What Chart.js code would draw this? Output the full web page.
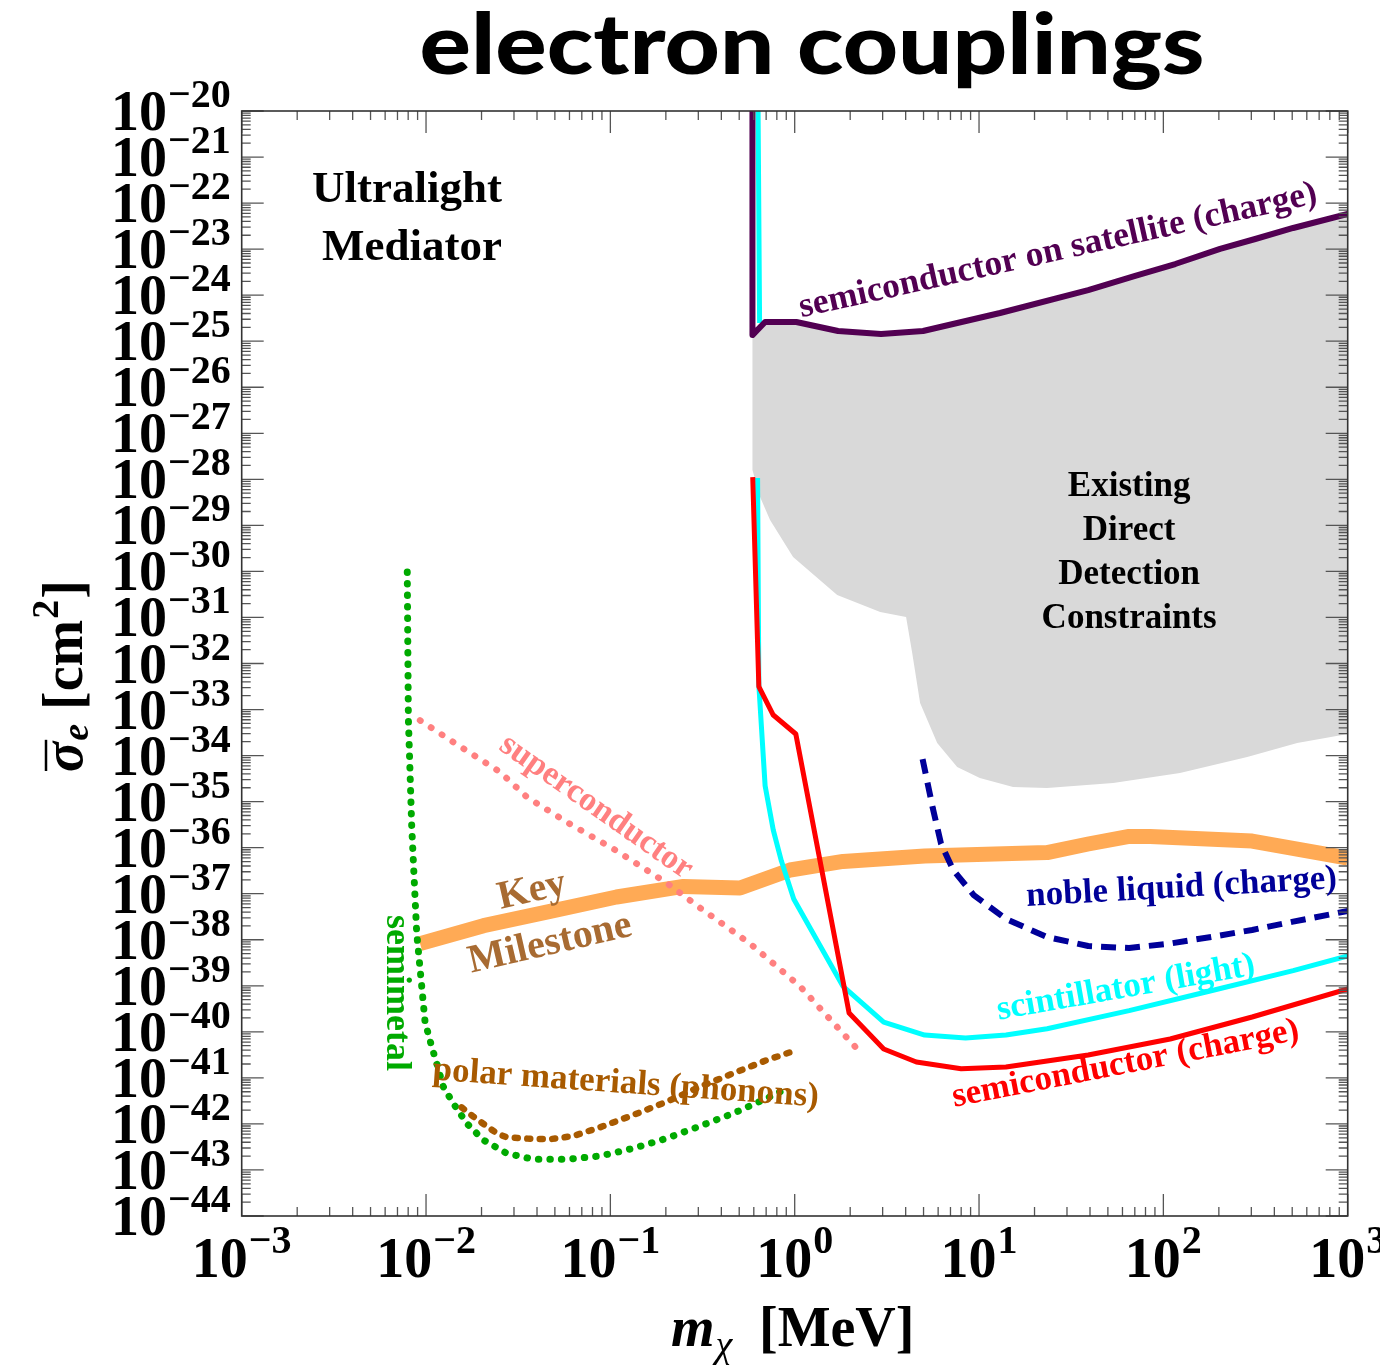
<!DOCTYPE html>
<html>
<head>
<meta charset="utf-8">
<script src="https://cdn.jsdelivr.net/npm/chart.js@4.4.1/dist/chart.umd.min.js"></script>
<style>
  html, body { margin: 0; padding: 0; background: #fff; }
  canvas { display: block; }
</style>
</head>
<body>
<canvas id="chart" width="1380" height="1365"></canvas>
<script>
// electron couplings, ultralight mediator: projected reach per target material
// mass in MeV, cross section in cm^2

const xTicks = [1e-3, 1e-2, 1e-1, 1e0, 1e1, 1e2, 1e3];
const yTicks = [1e-20, 1e-21, 1e-22, 1e-23, 1e-24, 1e-25, 1e-26, 1e-27, 1e-28, 1e-29, 1e-30, 1e-31, 1e-32,
                1e-33, 1e-34, 1e-35, 1e-36, 1e-37, 1e-38, 1e-39, 1e-40, 1e-41, 1e-42, 1e-43, 1e-44];

// semiconductor on satellite (charge)
const satMass  = [0.59, 0.59, 0.691, 1.02, 1.72, 2.94, 4.97, 13.0, 39.1, 70.3, 116, 203, 315, 506, 1000];
const satSigma = [1e-20, 1.36e-25, 2.61e-25, 2.61e-25, 1.67e-25, 1.43e-25, 1.67e-25, 4.10e-25, 1.29e-24,
                  2.61e-24, 4.75e-24, 1.01e-23, 1.66e-23, 2.88e-23, 5.79e-23];

// lower edge of the existing direct detection region (upper edge is the satellite curve)
const ddMass  = [0.59, 0.649, 0.735, 0.980, 1.70, 2.91, 4.02, 4.34, 4.79, 5.93, 7.61, 10.1, 15.3, 23.4,
                 53.4, 123, 285, 532, 1000];
const ddSigma = [1.60e-28, 4.13e-29, 1.31e-29, 2.06e-30, 3.07e-31, 1.31e-31, 1.02e-31, 1.69e-32, 1.39e-33,
                 1.88e-34, 5.65e-35, 3.26e-35, 2.08e-35, 1.97e-35, 2.54e-35, 4.18e-35, 9.31e-35, 1.88e-34, 2.94e-34];

// semiconductor (charge)
const semiMass  = [0.592, 0.639, 0.765, 1.014, 1.973, 3.04, 4.57, 8.0, 14.0, 39.1, 108.9, 303, 1000];
const semiSigma = [1.12e-28, 3.16e-33, 7.60e-34, 2.94e-34, 2.56e-40, 4.24e-41, 2.21e-41, 1.58e-41, 1.72e-41,
                   3.13e-41, 6.98e-41, 2.10e-40, 8.51e-40];

// scintillator (light) -- null where it runs under the shaded region
const scintMass  = [0.633, 0.645, 0.64, 0.629, 0.639, 0.691, 0.765, 0.847, 0.988, 1.824, 3.04, 5.07, 8.45,
                    14.0, 23.4, 65.2, 181.7, 506, 1000];
const scintSigma = [1e-20, 2.48e-25, null, 1.07e-28, 3.34e-33, 2.21e-35, 2.42e-36, 5.13e-37, 7.67e-38,
                    9.88e-40, 1.63e-40, 8.53e-41, 7.34e-41, 8.53e-41, 1.17e-40, 2.88e-40, 7.82e-40, 2.13e-39, 4.43e-39];

// noble liquid (charge)
const nobleMass  = [4.94, 5.61, 6.22, 7.24, 9.36, 14.0, 23.4, 39.1, 65.2, 108.9, 181.7, 303, 506, 1000];
const nobleSigma = [8.41e-35, 7.26e-36, 1.22e-36, 3.27e-37, 9.35e-38, 2.82e-38, 1.15e-38, 7.31e-39, 6.61e-39,
                    8.28e-39, 1.15e-38, 1.63e-38, 2.48e-38, 4.21e-38];

// key milestone
const keyMass  = [9.28e-3, 2.05e-2, 4.71e-2, 0.108, 0.249, 0.505, 0.944, 1.83, 5.07, 23.4, 39.1, 65.2, 84.8, 303, 1000];
const keySigma = [8.24e-39, 2.02e-38, 4.12e-38, 8.47e-38, 1.44e-37, 1.33e-37, 3.27e-37, 5.02e-37, 6.58e-37,
                  7.84e-37, 1.20e-36, 1.75e-36, 1.75e-36, 1.39e-36, 5.96e-37];

// superconductor
const superMass  = [9.28e-3, 1.35e-2, 2.52e-2, 3.52e-2, 5.80e-2, 0.108, 0.202, 0.307, 0.573, 1.07, 2.21];
const superSigma = [5.81e-34, 2.18e-34, 4.40e-35, 1.26e-35, 3.60e-36, 8.59e-37, 1.71e-37, 4.91e-38, 8.24e-39,
                    9.68e-40, 4.03e-41];

// semimetal
const semimetalMass  = [7.91e-3, 8.02e-3, 8.36e-3, 8.90e-3, 9.28e-3, 9.88e-3, 1.074e-2, 1.143e-2, 1.241e-2,
                        1.406e-2, 1.663e-2, 2.046e-2, 2.74e-2, 3.82e-2, 5.80e-2, 8.79e-2, 0.133, 0.202,
                        0.307, 0.465, 0.706, 0.833];
const semimetalSigma = [9.70e-31, 6.35e-34, 3.0e-36, 1.41e-38, 2.36e-39, 1.63e-40, 4.74e-41, 2.07e-41, 6.43e-42,
                        2.80e-42, 1.03e-42, 4.47e-43, 2.30e-43, 1.70e-43, 1.70e-43, 2.01e-43, 2.94e-43, 4.86e-43,
                        9.0e-43, 1.70e-42, 3.60e-42, 5.0e-42];

// polar materials (phonons)
const polarMass  = [1.56e-2, 1.81e-2, 2.09e-2, 2.42e-2, 2.74e-2, 3.82e-2, 4.71e-2, 6.30e-2, 8.79e-2, 0.133,
                    0.202, 0.307, 0.465, 0.706, 0.964];
const polarSigma = [2.29e-42, 1.43e-42, 9.46e-43, 6.25e-43, 5.12e-43, 4.70e-43, 4.67e-43, 5.46e-43, 8.44e-43,
                    1.56e-42, 3.03e-42, 6.43e-42, 1.26e-41, 2.44e-41, 3.70e-41];

const PURPLE = '#520052';
const CYAN = '#00ffff';
const RED = '#ff0000';
const NAVY = '#000099';
const ORANGE = '#ffaa55';
const PINK = '#ff8080';
const GREEN = '#00aa00';
const BROWN = '#a85a00';
const GRAY = '#d9d9d9';

const SERIF = '"Liberation Serif", "Times New Roman", serif';

// text labels placed in data coordinates (mass, sigma)
const notes = [
    { text: 'Ultralight', x: 7.88e-3, y: 1.07e-22, angle: 0, color: '#000', size: 45 },
    { text: 'Mediator', x: 8.39e-3, y: 5.81e-24, angle: 0, color: '#000', size: 45 },
    { text: 'Existing', x: 65.2, y: 4.35e-29, angle: 0, color: '#000', size: 35 },
    { text: 'Direct', x: 65.2, y: 4.81e-30, angle: 0, color: '#000', size: 35 },
    { text: 'Detection', x: 65.2, y: 5.32e-31, angle: 0, color: '#000', size: 35 },
    { text: 'Constraints', x: 65.2, y: 5.90e-32, angle: 0, color: '#000', size: 35 },
    { text: 'semiconductor on satellite (charge)', x: 27.5, y: 5.81e-24, angle: -12.5, color: PURPLE, size: 35.5 },
    { text: 'superconductor', x: 8.36e-2, y: 7.64e-36, angle: 35, color: PINK, size: 34, middle: true },
    { text: 'Key', x: 3.76e-2, y: 1.14e-37, angle: -13, color: '#a86b32', size: 40, middle: true },
    { text: 'Milestone', x: 4.71e-2, y: 8.07e-39, angle: -13, color: '#a86b32', size: 40, middle: true },
    { text: 'semimetal', x: 6.88e-3, y: 6.97e-40, angle: 90, color: GREEN, size: 36, middle: true },
    { text: 'polar materials (phonons)', x: 0.1202, y: 4.69e-42, angle: 4, color: BROWN, size: 35 },
    { text: 'noble liquid (charge)', x: 126.5, y: 8.47e-38, angle: -3.3, color: NAVY, size: 35 },
    { text: 'scintillator (light)', x: 63.8, y: 5.70e-40, angle: -10, color: CYAN, size: 35 },
    { text: 'semiconductor (charge)', x: 63.8, y: 1.27e-41, angle: -11, color: RED, size: 35 }
];

function pts(xs, ys) {
    return xs.map((x, i) => ({ x: x, y: ys[i] }));
}

// closed outline of the shaded region: satellite curve, then lower edge backwards
const ddOutline = pts(satMass.slice(1), satSigma.slice(1))
    .concat(pts(ddMass, ddSigma).reverse());

function expLabel(v) {
    const e = Math.round(Math.log10(v));
    return e < 0 ? '\u2212' + (-e) : String(e);
}

const framePlugin = {
    id: 'frame',
    afterDatasetsDraw(chart) {
        const { ctx, chartArea: a, scales } = chart;
        const xs = scales.x, ys = scales.y;
        ctx.save();

        // tick marks on all four sides, pointing inward
        ctx.strokeStyle = '#555';
        ctx.lineWidth = 1.3;
        ctx.beginPath();
        for (let e = -3; e <= 3; e++) {
            for (let m = 1; m <= 9; m++) {
                const v = m * Math.pow(10, e);
                if (v > 1000.001) break;
                const px = xs.getPixelForValue(v);
                const len = m === 1 ? 22 : 9;
                ctx.moveTo(px, a.bottom); ctx.lineTo(px, a.bottom - len);
                ctx.moveTo(px, a.top); ctx.lineTo(px, a.top + len);
            }
        }
        for (let e = -44; e <= -20; e++) {
            for (let m = 1; m <= 9; m++) {
                const v = m * Math.pow(10, e);
                if (e === -20 && m > 1) break;
                const py = ys.getPixelForValue(v);
                const len = m === 1 ? 22 : 9;
                ctx.moveTo(a.left, py); ctx.lineTo(a.left + len, py);
                ctx.moveTo(a.right, py); ctx.lineTo(a.right - len, py);
            }
        }
        ctx.stroke();

        ctx.strokeStyle = '#333';
        ctx.lineWidth = 1.6;
        ctx.strokeRect(a.left, a.top, a.right - a.left, a.bottom - a.top);

        // tick labels 10^n
        ctx.fillStyle = '#000';
        ctx.textAlign = 'left';
        ctx.textBaseline = 'alphabetic';
        const bigFont = 'bold 56px ' + SERIF;
        const supFont = 'bold 40px ' + SERIF;
        ctx.font = bigFont;
        const wb = ctx.measureText('10').width;

        yTicks.forEach(v => {
            const py = ys.getPixelForValue(v);
            const s = expLabel(v);
            ctx.font = supFont;
            const we = ctx.measureText(s).width;
            const right = a.left - 11;
            ctx.fillText(s, right - we, py - 4);
            ctx.font = bigFont;
            ctx.fillText('10', right - we - wb - 1, py + 19);
        });

        xTicks.forEach(v => {
            const px = xs.getPixelForValue(v);
            const s = expLabel(v);
            ctx.font = supFont;
            const we = ctx.measureText(s).width;
            const start = px - (wb + we + 1) / 2;
            ctx.fillText(s, start + wb + 1, a.bottom + 37);
            ctx.font = bigFont;
            ctx.fillText('10', start, a.bottom + 61);
        });

        // x axis title: m_chi [MeV]
        let cx = 671;
        const xBase = 1346;
        ctx.font = 'italic bold 56px ' + SERIF;
        ctx.fillText('m', cx, xBase);
        cx += ctx.measureText('m').width + 1;
        ctx.font = 'italic 38px ' + SERIF;
        ctx.fillText('\u03c7', cx, xBase + 11);
        ctx.font = 'bold 56px ' + SERIF;
        ctx.fillText('[MeV]', 759, xBase);

        // y axis title: sigma-bar_e [cm^2]
        ctx.save();
        ctx.translate(82, 772);
        ctx.rotate(-Math.PI / 2);
        let lx = 0;
        ctx.font = 'italic bold 56px ' + SERIF;
        const ws = ctx.measureText('\u03c3').width;
        ctx.fillText('\u03c3', lx, 0);
        ctx.lineWidth = 2.5;
        ctx.strokeStyle = '#000';
        ctx.beginPath();
        ctx.moveTo(lx + 1, -36); ctx.lineTo(lx + ws + 2, -36);
        ctx.stroke();
        lx += ws + 1;
        ctx.font = 'italic bold 38px ' + SERIF;
        ctx.fillText('e', lx, 6);
        lx += ctx.measureText('e').width;
        ctx.font = 'bold 56px ' + SERIF;
        ctx.fillText(' [cm', lx, 0);
        lx += ctx.measureText(' [cm').width;
        ctx.font = 'bold 38px ' + SERIF;
        ctx.fillText('2', lx + 1, -24);
        lx += ctx.measureText('2').width + 2;
        ctx.font = 'bold 56px ' + SERIF;
        ctx.fillText(']', lx, 0);
        ctx.restore();

        // title, stretched to the width of the original heading
        ctx.save();
        ctx.font = '900 84px Lato, "Open Sans", sans-serif';
        ctx.textAlign = 'center';
        const tw = ctx.measureText('electron couplings').width;
        ctx.translate(812, 74);
        ctx.scale(785 / tw, 1);
        ctx.fillText('electron couplings', 0, 0);
        ctx.restore();

        // curve labels
        notes.forEach(n => {
            const px = xs.getPixelForValue(n.x);
            const py = ys.getPixelForValue(n.y);
            ctx.save();
            ctx.translate(px, py);
            ctx.rotate(n.angle * Math.PI / 180);
            ctx.font = 'bold ' + n.size + 'px ' + SERIF;
            ctx.fillStyle = n.color;
            ctx.textAlign = 'center';
            ctx.textBaseline = n.middle ? 'middle' : 'alphabetic';
            ctx.fillText(n.text, 0, 0);
            ctx.restore();
        });

        ctx.restore();
    }
};

const ctx = document.getElementById('chart').getContext('2d');

new Chart(ctx, {
    type: 'line',
    data: {
        datasets: [
            {
                label: 'semiconductor on satellite (charge)',
                data: pts(satMass, satSigma),
                borderColor: PURPLE, borderWidth: 6, order: 1
            },
            {
                label: 'semiconductor (charge)',
                data: pts(semiMass, semiSigma),
                borderColor: RED, borderWidth: 5, order: 2
            },
            {
                label: 'scintillator (light)',
                data: pts(scintMass, scintSigma),
                borderColor: CYAN, borderWidth: 5, order: 3
            },
            {
                label: 'noble liquid (charge)',
                data: pts(nobleMass, nobleSigma),
                borderColor: NAVY, borderWidth: 6, borderDash: [15, 9], order: 4
            },
            {
                label: 'polar materials (phonons)',
                data: pts(polarMass, polarSigma),
                borderColor: BROWN, borderWidth: 6.5, borderDash: [3, 9.5], borderCapStyle: 'round', order: 5
            },
            {
                label: 'semimetal',
                data: pts(semimetalMass, semimetalSigma),
                borderColor: GREEN, borderWidth: 7, borderDash: [0.5, 11], borderCapStyle: 'round', order: 6
            },
            {
                label: 'superconductor',
                data: pts(superMass, superSigma),
                borderColor: PINK, borderWidth: 6.5, borderDash: [0.5, 12.5], borderCapStyle: 'round', order: 7
            },
            {
                label: 'Key Milestone',
                data: pts(keyMass, keySigma),
                borderColor: ORANGE, borderWidth: 15, order: 8
            },
            {
                label: 'Existing Direct Detection Constraints',
                data: ddOutline,
                borderColor: 'rgba(0,0,0,0)', borderWidth: 0,
                backgroundColor: GRAY, fill: 'shape', order: 9
            }
        ]
    },
    options: {
        responsive: false,
        animation: false,
        devicePixelRatio: 1,
        layout: { padding: { left: 241.7, top: 111, right: 32.3, bottom: 149 } },
        elements: {
            point: { radius: 0, hoverRadius: 0 },
            line: { tension: 0, borderJoinStyle: 'round', fill: false }
        },
        scales: {
            x: { type: 'logarithmic', min: 1e-3, max: 1e3, display: false },
            y: { type: 'logarithmic', min: 1e-44, max: 1e-20, display: false }
        },
        plugins: {
            legend: { display: false },
            tooltip: { enabled: false }
        }
    },
    plugins: [framePlugin]
});
</script>
</body>
</html>
